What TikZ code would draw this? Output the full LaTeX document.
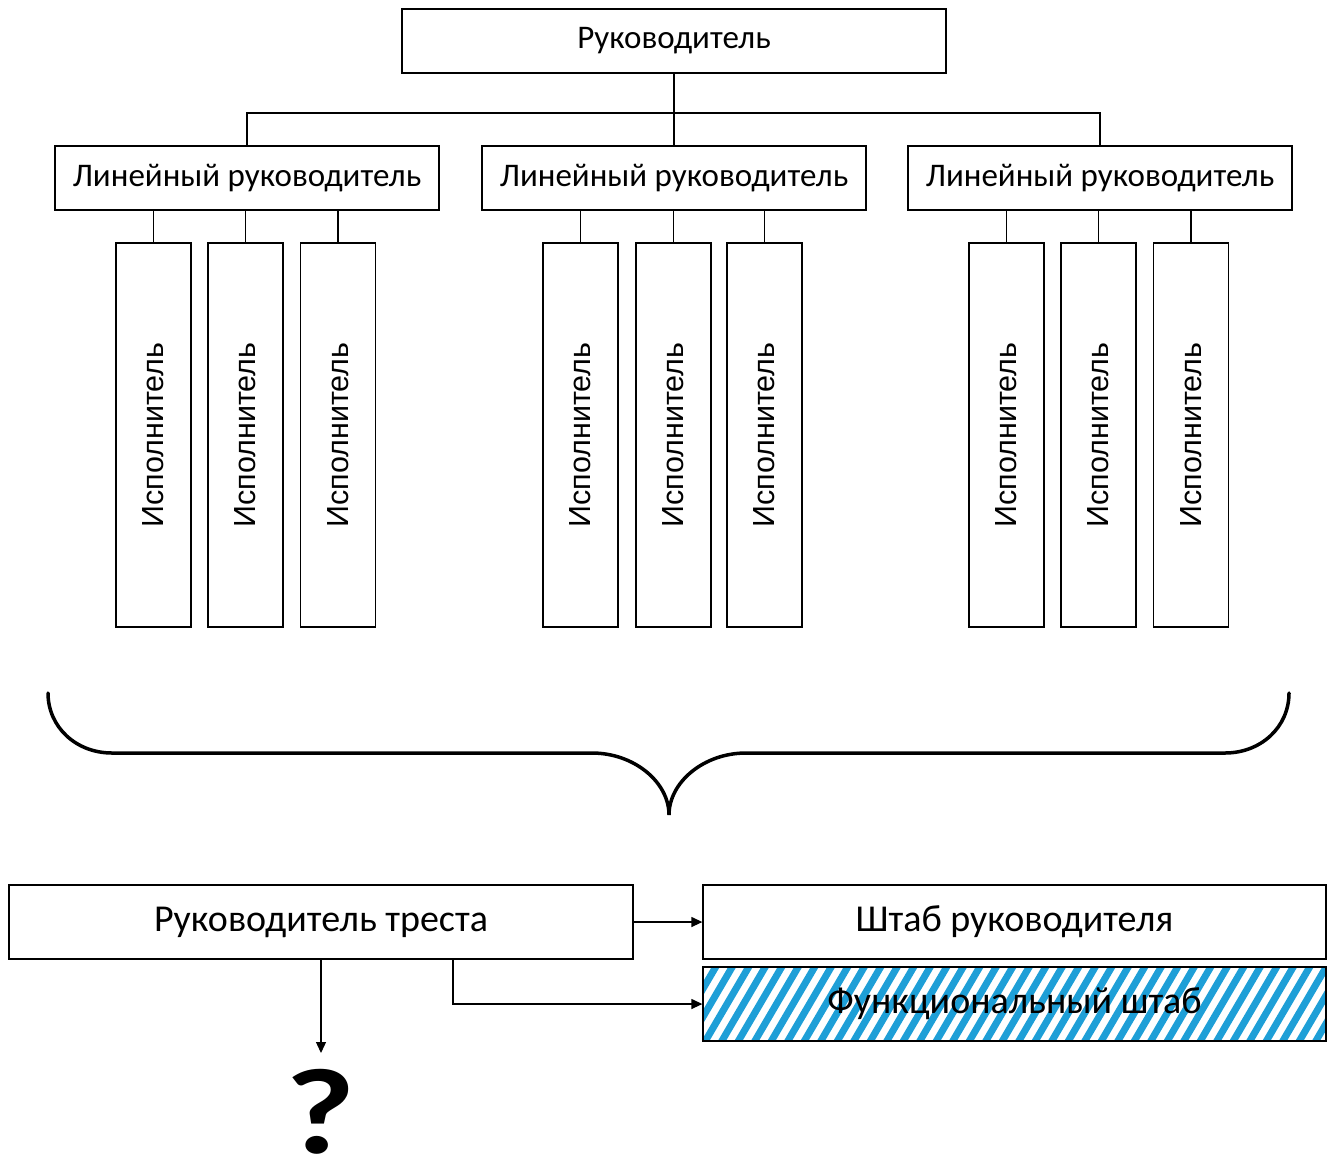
\documentclass[tikz,border=0pt]{standalone}
\usepackage{fontspec}
\setmainfont{Carlito}
\newfontfamily\arialf{Liberation Sans}
\usetikzlibrary{arrows.meta,backgrounds}
\definecolor{hatchblue}{HTML}{1E9FD7}
\tikzset{
  box/.style={draw=black, line width=1.3pt, fill=white, inner sep=0pt, align=center},
  execbox/.style={draw=black, line width=1.3pt, inner sep=0pt, minimum width=75pt, minimum height=384pt},
  exectext/.style={rotate=90, font=\arialf\fontsize{30.5}{34}\selectfont, inner sep=0pt},
  conn/.style={line width=1.3pt},
  arr/.style={line width=1.3pt, -{Triangle[length=11pt,width=10pt]}},
  brace/.style={line width=3.5pt, line cap=round},
  stripe/.style={hatchblue, line width=7pt},
  midfont/.style={font=\fontsize{33}{38}\selectfont},
  bigfont/.style={font=\fontsize{38}{44}\selectfont}
}
\begin{document}
\begin{tikzpicture}[x=1pt,y=-1pt]
\useasboundingbox (0,0) rectangle (1327,1157);
% top
\node[box, midfont, minimum width=544pt, minimum height=64pt] (top) at (674,41) {Руководитель};
% linear managers
\foreach \n/\x in {l1/247,l2/674,l3/1100}{
  \node[box, midfont, minimum width=384pt, minimum height=64pt] (\n) at (\x,178) {Линейный руководитель};
}
\coordinate (bus) at (674,113);
\draw[conn] (top.south) -- (bus);
\draw[conn] (l1.north) |- (bus) -| (l3.north);
\draw[conn] (bus) -- (l2.north);
% executors
\foreach \n/\x/\p in {e11/153.5/l1,e12/245.5/l1,e13/338/l1,
                     e21/580.5/l2,e22/673.5/l2,e23/764.5/l2,
                     e31/1006.5/l3,e32/1098.5/l3,e33/1191/l3}{
  \node[execbox] (\n) at (\x,435) {};
  \node[exectext] at (\n.center) {Исполнитель};
  \draw[conn] (\p.south -| \n.north) -- (\n.north);
}
% brace
\draw[brace] (48,693) .. controls (48,727) and (76,753) .. (112,753)
  -- (592,753) .. controls (634,753) and (669,782) .. (669,815)
  .. controls (669,782) and (704,753) .. (746,753)
  -- (1225,753) .. controls (1261,753) and (1289,727) .. (1289,693);
% bottom
\node[box, bigfont, minimum width=624pt, minimum height=74pt] (trust) at (321,922) {Руководитель треста};
\node[box, bigfont, minimum width=623pt, minimum height=74pt] (staff) at (1014.5,922) {Штаб руководителя};
\node[box, bigfont, fill=none, minimum width=623pt, minimum height=74pt] (func) at (1014.5,1004) {Функциональный штаб};
\begin{scope}[on background layer]
  \clip (func.south west) rectangle (func.north east);
  \foreach \i in {-4,...,40}{
    \draw[stripe] ({703+\i*16.5},1045) -- ++(48,-82);
  }
\end{scope}
\node[inner sep=0pt, outer ysep=16pt, anchor=north, font=\bfseries\fontsize{122}{124}\selectfont] (q) at (321,1053) {\scalebox{1.24}[1]{?}};
\draw[arr] (trust.east) -- (staff.west);
\draw[arr] ([xshift=132pt]trust.south) |- (func.west);
\draw[arr] (trust.south) -- (trust.south |- q.north);
\end{tikzpicture}
\end{document}
